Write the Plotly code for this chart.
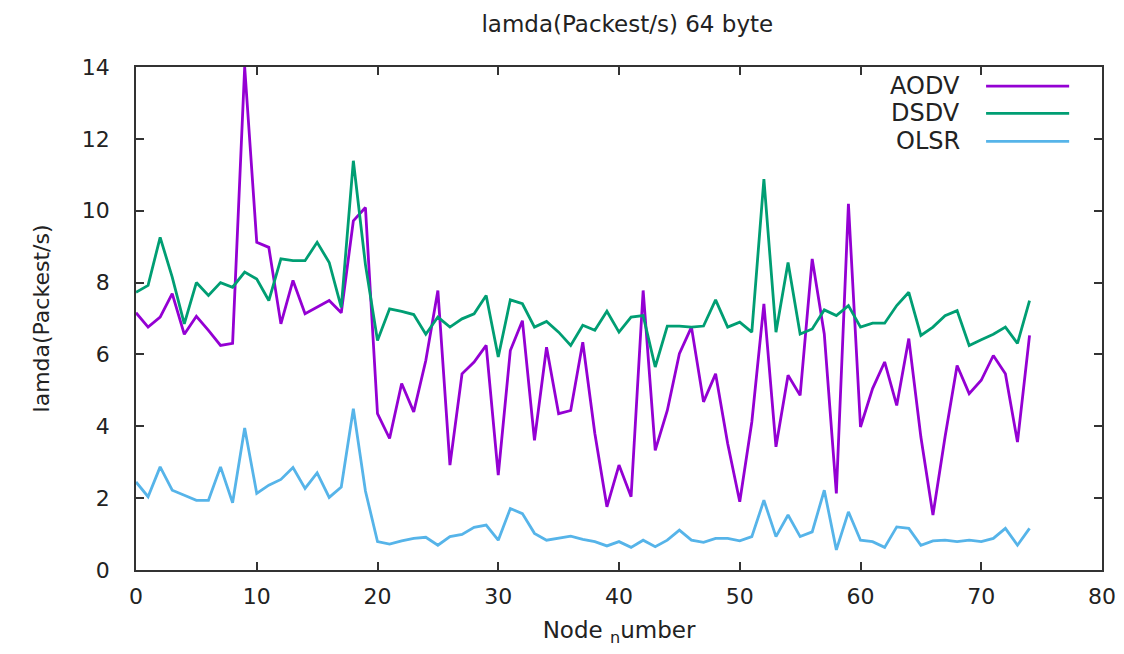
import plotly.graph_objects as go

nodes = list(range(75))

aodv = [7.16, 6.76, 7.04, 7.69, 6.56, 7.06, 6.67, 6.25, 6.31, 14.0,
        9.12, 8.98, 6.85, 8.06, 7.13, 7.31, 7.50, 7.16, 9.72, 10.09,
        4.35, 3.66, 5.19, 4.40, 5.83, 7.78, 2.92, 5.46, 5.79, 6.25,
        2.64, 6.11, 6.94, 3.61, 6.20, 4.35, 4.44, 6.34, 3.80, 1.76,
        2.92, 2.04, 7.78, 3.33, 4.44, 6.02, 6.76, 4.68, 5.46, 3.52,
        1.90, 4.12, 7.41, 3.43, 5.42, 4.86, 8.66, 6.57, 2.13, 10.19,
        3.98, 5.05, 5.79, 4.58, 6.44, 3.70, 1.53, 3.70, 5.69, 4.91,
        5.28, 5.97, 5.46, 3.56, 6.53]

dsdv = [7.73, 7.92, 9.26, 8.15, 6.85, 8.00, 7.64, 8.00, 7.87, 8.29,
        8.10, 7.50, 8.66, 8.61, 8.61, 9.12, 8.56, 7.31, 11.39, 8.50,
        6.39, 7.27, 7.20, 7.11, 6.56, 7.04, 6.76, 6.99, 7.13, 7.64,
        5.93, 7.52, 7.41, 6.76, 6.92, 6.62, 6.25, 6.81, 6.67, 7.20,
        6.62, 7.04, 7.08, 5.65, 6.79, 6.79, 6.76, 6.79, 7.52, 6.76,
        6.90, 6.62, 10.88, 6.62, 8.56, 6.57, 6.71, 7.24, 7.08, 7.36,
        6.76, 6.87, 6.87, 7.36, 7.73, 6.53, 6.76, 7.08, 7.22, 6.25,
        6.41, 6.56, 6.76, 6.31, 7.50]

olsr = [2.45, 2.04, 2.87, 2.22, 2.08, 1.94, 1.94, 2.87, 1.87, 3.95,
        2.13, 2.36, 2.52, 2.85, 2.27, 2.70, 2.02, 2.31, 4.49, 2.20,
        0.79, 0.72, 0.81, 0.88, 0.91, 0.69, 0.93, 0.99, 1.19, 1.25,
        0.83, 1.71, 1.57, 1.02, 0.83, 0.88, 0.94, 0.85, 0.79, 0.67,
        0.79, 0.63, 0.83, 0.65, 0.83, 1.11, 0.83, 0.77, 0.88, 0.88,
        0.81, 0.93, 1.94, 0.93, 1.53, 0.93, 1.06, 2.22, 0.56, 1.62,
        0.83, 0.79, 0.63, 1.20, 1.16, 0.69, 0.81, 0.83, 0.79, 0.83,
        0.79, 0.88, 1.16, 0.69, 1.16]

series_names = ["AODV", "DSDV", "OLSR"]
series_colors = ["#9400D3", "#009E73", "#56B4E9"]
series_values = [aodv, dsdv, olsr]

x_ticks = [0, 10, 20, 30, 40, 50, 60, 70, 80]
y_ticks = [0, 2, 4, 6, 8, 10, 12, 14]

FONT = "DejaVu Sans, Liberation Sans, Arial, sans-serif"
TXT = "#222222"

fig = go.Figure()
for name, color, vals in zip(series_names, series_colors, series_values):
    fig.add_trace(go.Scatter(x=nodes, y=vals, mode="lines", name=name,
                             line=dict(color=color, width=2.8), showlegend=False))

# gnuplot-style legend: text right-aligned, line sample on the right
leg_y = [0.962, 0.908, 0.852]
for name, color, ly in zip(series_names, series_colors, leg_y):
    fig.add_annotation(xref="paper", yref="paper", x=0.855, y=ly, text=name,
                       showarrow=False, xanchor="right", yanchor="middle",
                       font=dict(family=FONT, size=24, color=TXT))
    fig.add_shape(type="line", xref="paper", yref="paper", x0=0.880, x1=0.966,
                  y0=ly, y1=ly, line=dict(color=color, width=2.8))

axis_common = dict(showline=True, linecolor="#333333", linewidth=1.5, mirror="ticks",
                   ticks="inside", ticklen=8, tickcolor="#333333", tickwidth=1.5,
                   showgrid=False, zeroline=False,
                   tickfont=dict(family=FONT, size=22, color=TXT))

fig.update_xaxes(range=[0, 80], tickvals=x_ticks, ticklabelstandoff=6,
                 title=dict(text="Node <sub>n</sub>umber",
                            font=dict(family=FONT, size=23, color=TXT), standoff=14),
                 **axis_common)
fig.update_yaxes(range=[0, 14], tickvals=y_ticks, ticklabelstandoff=20,
                 title=dict(text="lamda(Packest/s)",
                            font=dict(family=FONT, size=22, color=TXT), standoff=26),
                 **axis_common)

fig.update_layout(
    width=1124, height=654,
    margin=dict(l=128, r=30, t=59, b=92),
    paper_bgcolor="white", plot_bgcolor="white",
    title=dict(text="lamda(Packest/s) 64 byte", x=0.551, xanchor="center",
               y=0.975, yanchor="middle",
               font=dict(family=FONT, size=23, color=TXT)),
)

fig.write_html("out.html")
